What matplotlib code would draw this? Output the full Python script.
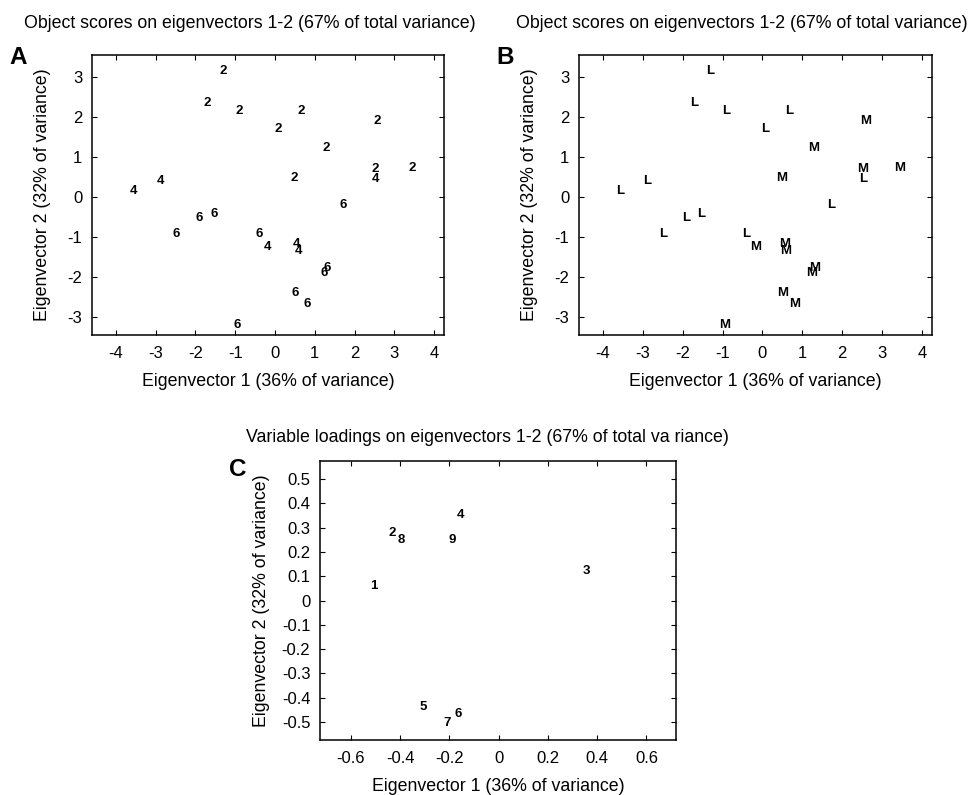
import numpy as np
import matplotlib
matplotlib.use('Agg')
import matplotlib.pyplot as plt
from matplotlib.ticker import FuncFormatter

plt.rcParams['font.family'] = ['Liberation Sans', 'DejaVu Sans']
plt.rcParams['axes.unicode_minus'] = False

# object scores on eigenvectors 1-2 (shared by panels A and B)
score_x = [-1.30, -1.70, -0.91, 0.67, 0.07, 2.58, 1.29, 2.52, 2.52, 3.44, 0.49,
           -3.56, -2.88, 1.72, -1.90, -1.53, -2.49, -0.40, -0.18, 0.55, 0.59,
           1.30, 1.23, 0.50, 0.80, -0.96]
score_y = [3.15, 2.35, 2.15, 2.15, 1.69, 1.90, 1.23, 0.71, 0.44, 0.73, 0.48,
           0.14, 0.39, -0.21, -0.52, -0.43, -0.93, -0.93, -1.25, -1.17, -1.35,
           -1.77, -1.89, -2.40, -2.67, -3.21]
group_num = ['2', '2', '2', '2', '2', '2', '2', '2', '4', '2', '2',
             '4', '4', '6', '6', '6', '6', '6', '4', '4', '4',
             '6', '6', '6', '6', '6']
group_lm = ['L', 'L', 'L', 'L', 'L', 'M', 'M', 'M', 'L', 'M', 'M',
            'L', 'L', 'L', 'L', 'L', 'L', 'L', 'M', 'M', 'M',
            'M', 'M', 'M', 'M', 'M']

# variable loadings
var_names = ['1', '2', '3', '4', '5', '6', '7', '8', '9']
load_x = [-0.505, -0.431, 0.358, -0.153, -0.305, -0.164, -0.208, -0.395, -0.188]
load_y = [0.059, 0.279, 0.121, 0.351, -0.438, -0.468, -0.507, 0.251, 0.248]

score_xticks = [-4, -3, -2, -1, 0, 1, 2, 3, 4]
score_yticks = [-3, -2, -1, 0, 1, 2, 3]
load_xticks = [-0.6, -0.4, -0.2, 0, 0.2, 0.4, 0.6]
load_yticks = [-0.5, -0.4, -0.3, -0.2, -0.1, 0, 0.1, 0.2, 0.3, 0.4, 0.5]

XLAB = 'Eigenvector 1 (36% of variance)'
YLAB = 'Eigenvector 2 (32% of variance)'


def style_axes(ax, xticks, yticks, xlim, ylim, ylab_x):
    ax.set_xlim(*xlim); ax.set_ylim(*ylim)
    ax.set_xticks(xticks); ax.set_yticks(yticks)
    fmt = FuncFormatter(lambda v, p: '%g' % round(v, 2))
    ax.xaxis.set_major_formatter(fmt); ax.yaxis.set_major_formatter(fmt)
    ax.tick_params(direction='in', length=3.5, width=0.8, top=True, right=True,
                   labelsize=12)
    ax.tick_params(axis='x', pad=8)
    ax.tick_params(axis='y', pad=7)
    for s in ax.spines.values():
        s.set_linewidth(1.1)
    ax.set_xlabel(XLAB, fontsize=12.8, va='center')
    ax.set_ylabel(YLAB, fontsize=12.8, va='center')
    ax.xaxis.set_label_coords(0.5, -0.165)
    ax.yaxis.set_label_coords(ylab_x, 0.5)


fig = plt.figure(figsize=(9.75, 7.95), dpi=100)
ax_a = fig.add_axes([0.0944, 0.5786, 0.3610, 0.3522])
ax_b = fig.add_axes([0.5938, 0.5786, 0.3621, 0.3522])
ax_c = fig.add_axes([0.3282, 0.0692, 0.3651, 0.3509])

# point labels are drawn as text at each score position
for ax, labels, ylx in [(ax_a, group_num, -0.142), (ax_b, group_lm, -0.139)]:
    for x, y, t in zip(score_x, score_y, labels):
        ax.text(x, y, t, ha='center', va='center', fontsize=9.5, fontweight='bold')
    style_axes(ax, score_xticks, score_yticks, (-4.6, 4.25), (-3.45, 3.55), ylx)

for x, y, t in zip(load_x, load_y, var_names):
    ax_c.text(x, y, t, ha='center', va='center', fontsize=9.5, fontweight='bold')
style_axes(ax_c, load_xticks, load_yticks, (-0.725, 0.72), (-0.575, 0.575), -0.163)

title = 'Object scores on eigenvectors 1-2 (67% of total variance)'
fig.text(250 / 975, 1 - 23 / 795, title, ha='center', va='center', fontsize=12.8)
fig.text(742 / 975, 1 - 23 / 795, title, ha='center', va='center', fontsize=12.8)
fig.text(487 / 975, 1 - 437 / 795,
         'Variable loadings on eigenvectors 1-2 (67% of total va riance)',
         ha='center', va='center', fontsize=12.8)

for lab, px, py in [('A', 18, 57), ('B', 505, 57), ('C', 238, 470)]:
    fig.text(px / 975, 1 - py / 795, lab, ha='center', va='center',
             fontsize=17.5, fontweight='bold')

fig.savefig('out.png', dpi=100)
